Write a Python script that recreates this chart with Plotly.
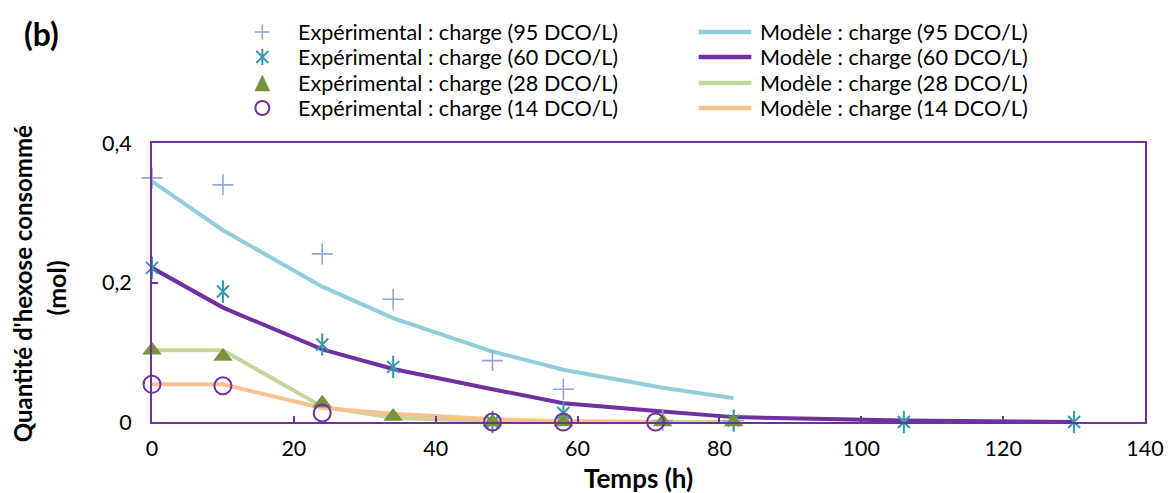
import plotly.graph_objects as go

# ---- data ----
t95_exp = [0, 10, 24, 34, 48, 58, 72, 82]
y95_exp = [0.350, 0.340, 0.241, 0.176, 0.088, 0.047, 0.002, 0.002]
t60_exp = [0, 10, 24, 34, 48, 58, 82, 106, 130]
y60_exp = [0.221, 0.187, 0.111, 0.079, 0.0, 0.013, 0.002, 0.0, 0.0]
t28_exp = [0, 10, 24, 34, 48, 58, 72, 82]
y28_exp = [0.103, 0.094, 0.027, 0.008, 0.0, 0.0, 0.0, 0.0]
t14_exp = [0, 10, 24, 48, 58, 71]
y14_exp = [0.054, 0.052, 0.013, 0.0, 0.0, 0.0]

t95_mod = [0, 10, 24, 34, 48, 58, 72, 82]
y95_mod = [0.345, 0.275, 0.194, 0.149, 0.101, 0.075, 0.049, 0.034]
t60_mod = [0, 10, 24, 34, 48, 58, 72, 82, 106, 130]
y60_mod = [0.221, 0.164, 0.104, 0.076, 0.047, 0.027, 0.015, 0.007, 0.002, 0.0]
t28_mod = [0, 10, 24, 34, 48, 58, 72, 82]
y28_mod = [0.103, 0.103, 0.022, 0.006, 0.001, 0.0, 0.0, 0.0]
t14_mod = [0, 10, 24, 34, 48, 58, 71]
y14_mod = [0.054, 0.054, 0.020, 0.012, 0.004, 0.001, 0.0]

exp_labels = ["Expérimental : charge (95 DCO/L)", "Expérimental : charge (60 DCO/L)",
              "Expérimental : charge (28 DCO/L)", "Expérimental : charge (14 DCO/L)"]
mod_labels = ["Modèle : charge (95 DCO/L)", "Modèle : charge (60 DCO/L)",
              "Modèle : charge (28 DCO/L)", "Modèle : charge (14 DCO/L)"]

x_ticks = [0, 20, 40, 60, 80, 100, 120, 140]
y_ticks = [0, 0.2, 0.4]
y_ticktext = ["0", "0,2", "0,4"]

C95 = "#8FA6D6"
C60 = "#3499AE"
C28 = "#77933C"
C14 = "#7030A0"
L95 = "#92CDDC"
L60 = "#7030A0"
L28 = "#C3D69B"
L14 = "#FAC090"
AX = "#7030A0"
FONT = "Lato"

W, H = 1176, 493
ML, MR, MT, MB = 152, 25, 143, 71
PW, PH = W - ML - MR, H - MT - MB


def px(xp):
    return (xp - ML) / PW


def py(yp):
    return (H - MB - yp) / PH


fig = go.Figure()

# model lines
for t, y, c, name in [(t95_mod, y95_mod, L95, mod_labels[0]), (t60_mod, y60_mod, L60, mod_labels[1]),
                      (t28_mod, y28_mod, L28, mod_labels[2]), (t14_mod, y14_mod, L14, mod_labels[3])]:
    fig.add_trace(go.Scatter(x=t, y=y, mode="lines", name=name, showlegend=False,
                             line=dict(color=c, width=4), cliponaxis=False))

# experimental markers
fig.add_trace(go.Scatter(x=t95_exp, y=y95_exp, mode="markers", name=exp_labels[0], showlegend=False,
                         marker=dict(symbol="cross-thin-open", size=15, color=C95, line=dict(color=C95, width=1.6)),
                         cliponaxis=False))
fig.add_trace(go.Scatter(x=t60_exp, y=y60_exp, mode="markers", name=exp_labels[1], showlegend=False,
                         marker=dict(symbol="x-thin-open", size=12, color=C60, line=dict(color=C60, width=2)),
                         cliponaxis=False))
fig.add_trace(go.Scatter(x=t60_exp, y=y60_exp, mode="markers", showlegend=False,
                         marker=dict(symbol="line-ns-open", size=16, color=C60, line=dict(color=C60, width=2)),
                         cliponaxis=False))
fig.add_trace(go.Scatter(x=t28_exp, y=y28_exp, mode="markers", name=exp_labels[2], showlegend=False,
                         marker=dict(symbol="triangle-up", size=17, color=C28, line=dict(width=0)),
                         cliponaxis=False))
fig.add_trace(go.Scatter(x=t14_exp, y=y14_exp, mode="markers", name=exp_labels[3], showlegend=False,
                         marker=dict(symbol="circle-open", size=17, color=C14, line=dict(color=C14, width=2)),
                         cliponaxis=False))

# ---- manual legend (layout decoration) ----
rows = [32, 57, 83, 108]
mk_x = 263
shapes = []
annotations = []
for i, r in enumerate(rows):
    annotations.append(dict(text=exp_labels[i], xref="paper", yref="paper", x=px(297), y=py(r),
                            xanchor="left", yanchor="middle", showarrow=False,
                            font=dict(size=21.6, color="black")))
    annotations.append(dict(text=mod_labels[i], xref="paper", yref="paper", x=px(762), y=py(r),
                            xanchor="left", yanchor="middle", showarrow=False,
                            font=dict(size=21.6, color="black")))

line_cols = [L95, L60, L28, L14]
for i, r in enumerate(rows):
    shapes.append(dict(type="line", xref="paper", yref="paper", x0=px(702), x1=px(755), y0=py(r), y1=py(r),
                       line=dict(color=line_cols[i], width=4.5)))


def pshape(path_pts, color, width, fill=None, row=0):
    d = dict(type="path", xref="paper", yref="paper", xsizemode="pixel", ysizemode="pixel",
             xanchor=px(mk_x), yanchor=py(rows[row]), path=path_pts,
             line=dict(color=color, width=width))
    if fill:
        d["fillcolor"] = fill
    return d


# plus
shapes.append(pshape("M-7.5,0 L7.5,0 M0,-7.5 L0,7.5", C95, 1.6, row=0))
# asterisk (6 arms)
shapes.append(pshape("M-6,-6 L6,6 M-6,6 L6,-6 M0,-8 L0,8", C60, 2, row=1))
# triangle
shapes.append(pshape("M-7.5,-8 L7.5,-8 L0,8 Z", C28, 0.5, fill=C28, row=2))
# circle
shapes.append(dict(type="circle", xref="paper", yref="paper", xsizemode="pixel", ysizemode="pixel",
                   xanchor=px(mk_x), yanchor=py(rows[3]), x0=-7, x1=7, y0=-7, y1=7,
                   line=dict(color=C14, width=2)))

annotations += [
    dict(text="<b>Temps (h)</b>", xref="paper", yref="paper", x=px(641), y=py(478),
         xanchor="center", yanchor="middle", showarrow=False, font=dict(size=26)),
    dict(text="<b>Quantité d'hexose consommé</b>", xref="paper", yref="paper", x=px(22), y=py(283.5),
         xanchor="center", yanchor="middle", textangle=-90, showarrow=False, font=dict(size=24)),
    dict(text="<b>(mol)</b>", xref="paper", yref="paper", x=px(55), y=py(288),
         xanchor="center", yanchor="middle", textangle=-90, showarrow=False, font=dict(size=25)),
    dict(text="<b>(b)</b>", xref="paper", yref="paper", x=px(41), y=py(33),
         xanchor="center", yanchor="middle", showarrow=False, font=dict(size=32)),
]

fig.update_layout(
    width=W, height=H,
    margin=dict(l=ML, r=MR, t=MT, b=MB),
    paper_bgcolor="white", plot_bgcolor="white",
    font=dict(family=FONT, size=21, color="black"),
    showlegend=False,
    xaxis=dict(range=[0, 140], tickvals=x_ticks, ticks="inside", ticklen=6, tickcolor=AX, tickwidth=1.5,
               showline=True, linecolor=AX, linewidth=1.8, mirror=True, showgrid=False, zeroline=False,
               tickfont=dict(size=21.5), ticklabelstandoff=6),
    yaxis=dict(range=[0, 0.4], tickvals=y_ticks, ticktext=y_ticktext, ticks="inside", ticklen=6,
               tickcolor=AX, tickwidth=1.5, showline=True, linecolor=AX, linewidth=1.8, mirror=True,
               showgrid=False, zeroline=False, tickfont=dict(size=21.5), ticklabelstandoff=14),
    shapes=shapes,
    annotations=annotations,
)

fig.write_html("out.html", post_script="document.body.style.margin='0';",
               config={"displayModeBar": False})
